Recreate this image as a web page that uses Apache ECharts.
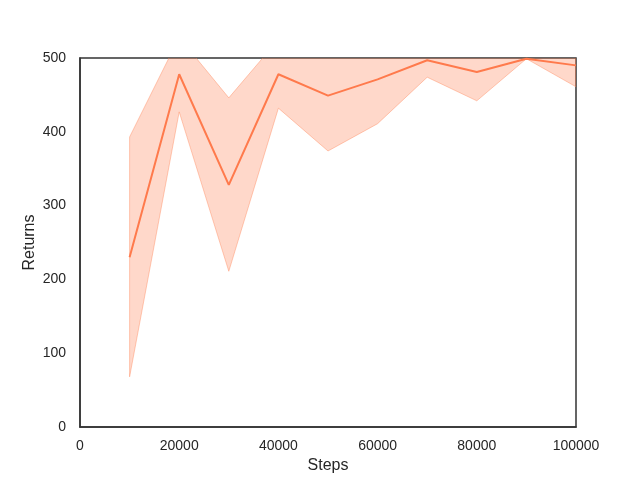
<!DOCTYPE html>
<html>
<head>
<meta charset="utf-8">
<script src="https://cdn.jsdelivr.net/npm/echarts@6/dist/echarts.min.js"></script>
<style>
  html, body { margin: 0; padding: 0; background: #fff; }
  #chart { width: 640px; height: 480px; }
</style>
</head>
<body>
<div id="chart"></div>
<script>
// values
var steps = [10000, 20000, 30000, 40000, 50000, 60000, 70000, 80000, 90000, 100000];
var meanReturns = [230, 478, 328, 478, 449, 471, 497, 481, 499, 490];
var lowerReturns = [68, 427, 211, 432, 374, 411, 474, 442, 499, 461];
var upperReturns = [393, 528, 446, 525, 525, 530, 520, 520, 500, 520];

var lineColor = "#ff7a4c";
var bandFill = "rgba(255, 127, 80, 0.3)";
var bandEdge = "rgba(255, 127, 80, 0.4)";

var chart = echarts.init(document.getElementById("chart"));

// band drawn as one polygon: upper edge forward, lower edge back
function renderBand(params, api) {
  var pts = [];
  for (var i = 0; i < steps.length; i++) {
    pts.push(api.coord([steps[i], upperReturns[i]]));
  }
  for (var j = steps.length - 1; j >= 0; j--) {
    pts.push(api.coord([steps[j], lowerReturns[j]]));
  }
  var cs = params.coordSys;
  return {
    type: "polygon",
    shape: { points: pts },
    style: { fill: bandFill, stroke: bandEdge, lineWidth: 1 },
    clipPath: {
      type: "rect",
      shape: { x: cs.x, y: cs.y, width: cs.width, height: cs.height }
    }
  };
}

chart.setOption({
  animation: false,
  textStyle: { fontFamily: "Liberation Sans, Arial, sans-serif" },
  grid: {
    left: 80, right: 64, top: 58, bottom: 53,
    show: true, borderColor: "#333", borderWidth: 1.5,
    backgroundColor: "transparent"
  },
  xAxis: {
    type: "value",
    min: 0, max: 100000, interval: 20000,
    name: "Steps", nameLocation: "middle", nameGap: 31,
    nameMoveOverlap: false,
    nameTextStyle: { fontSize: 16, color: "#262626" },
    axisLine: { show: true, lineStyle: { color: "#333", width: 1.5 } },
    axisTick: { show: false },
    splitLine: { show: false },
    axisLabel: { fontSize: 14, color: "#262626", margin: 12, formatter: function (v) { return String(v); } }
  },
  yAxis: {
    type: "value",
    min: 0, max: 500, interval: 100,
    name: "Returns", nameLocation: "middle", nameGap: 42,
    nameMoveOverlap: false,
    nameTextStyle: { fontSize: 16, color: "#262626" },
    axisLine: { show: true, lineStyle: { color: "#333", width: 1.5 } },
    axisTick: { show: false },
    splitLine: { show: false },
    axisLabel: { fontSize: 14, color: "#262626", margin: 14 }
  },
  series: [
    {
      type: "custom",
      data: [0],
      renderItem: renderBand,
      z: 1
    },
    {
      type: "line", symbol: "none", clip: true,
      data: steps.map(function (s, i) { return [s, meanReturns[i]]; }),
      lineStyle: { color: lineColor, width: 2 },
      z: 3
    }
  ]
});
</script>
</body>
</html>
